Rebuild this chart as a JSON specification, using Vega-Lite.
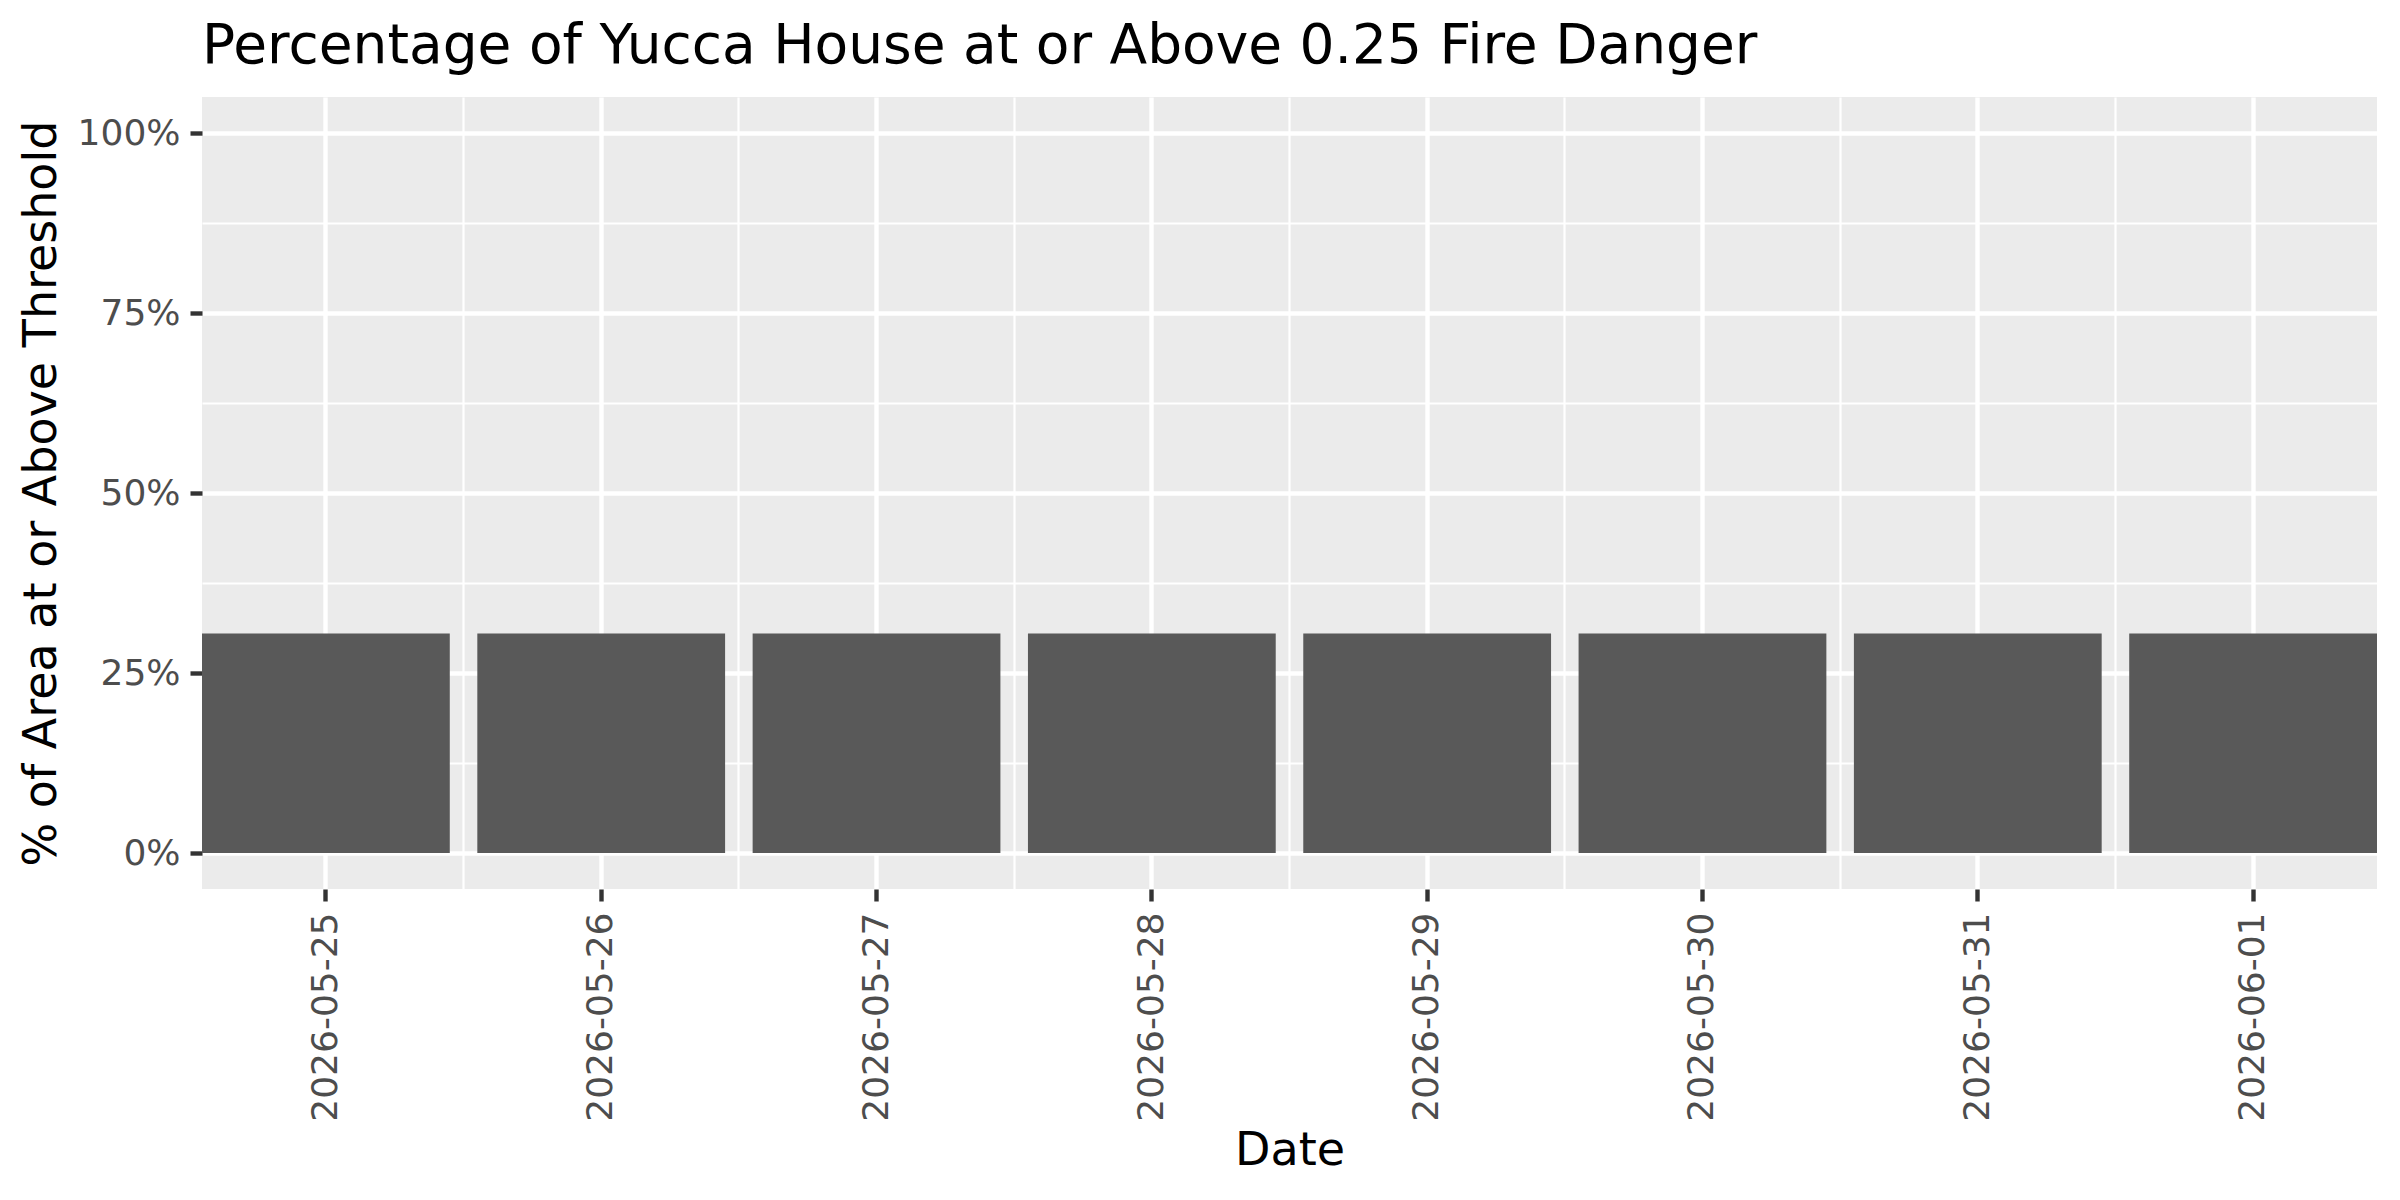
{
  "$schema": "https://vega.github.io/schema/vega-lite/v6.json",
  "width": 2175,
  "height": 792,
  "autosize": {"type": "none"},
  "padding": {"left": 202, "top": 97, "right": 23, "bottom": 311},
  "background": "white",
  "title": {
    "text": "Percentage of Yucca House at or Above 0.25 Fire Danger",
    "anchor": "start",
    "frame": "group",
    "fontSize": 55,
    "font": "DejaVu Sans",
    "fontWeight": "normal",
    "color": "black",
    "offset": 22
  },
  "config": {
    "view": {"fill": "#EBEBEB", "stroke": null},
    "font": "DejaVu Sans"
  },
  "data": {
    "values": [
      {"date": "2026-05-25", "pct": 0.305},
      {"date": "2026-05-26", "pct": 0.305},
      {"date": "2026-05-27", "pct": 0.305},
      {"date": "2026-05-28", "pct": 0.305},
      {"date": "2026-05-29", "pct": 0.305},
      {"date": "2026-05-30", "pct": 0.305},
      {"date": "2026-05-31", "pct": 0.305},
      {"date": "2026-06-01", "pct": 0.305}
    ]
  },
  "layer": [
    {
      "mark": {"type": "bar", "opacity": 0},
      "encoding": {
        "x": {
          "field": "date",
          "type": "ordinal",
          "scale": {"paddingInner": 0.1, "paddingOuter": 0},
          "axis": {
            "orient": "top",
            "bandPosition": -0.0556,
            "grid": true,
            "gridColor": "white",
            "gridWidth": 2.2,
            "labels": false,
            "ticks": false,
            "domain": false,
            "title": null
          }
        },
        "y": {
          "field": "pct",
          "type": "quantitative",
          "scale": {"domain": [-0.05, 1.05], "nice": false, "zero": false},
          "axis": {
            "values": [0, 0.125, 0.25, 0.375, 0.5, 0.625, 0.75, 0.875, 1],
            "labelExpr": "datum.value * 4 == round(datum.value * 4) ? format(datum.value, '.0%') : ''",
            "grid": true,
            "gridColor": "white",
            "gridWidth": {"condition": {"test": "datum.value * 4 == round(datum.value * 4)", "value": 4.4}, "value": 2.2},
            "tickOpacity": {"condition": {"test": "datum.value * 4 == round(datum.value * 4)", "value": 1}, "value": 0},
            "domain": false,
            "tickSize": 12,
            "tickWidth": 4.4,
            "tickColor": "#333333",
            "labelFontSize": 36,
            "labelColor": "#4D4D4D",
            "labelPadding": 10,
            "labelLimit": 0,
            "title": "% of Area at or Above Threshold",
            "titleFontSize": 46,
            "titleFontWeight": "normal",
            "titleColor": "black",
            "titlePadding": 12,
            "titleLimit": 0
          }
        }
      }
    },
    {
      "mark": {"type": "bar", "color": "#595959"},
      "encoding": {
        "x": {
          "field": "date",
          "type": "ordinal",
          "scale": {"paddingInner": 0.1, "paddingOuter": 0},
          "axis": {
            "orient": "bottom",
            "bandPosition": 0.5,
            "grid": true,
            "gridColor": "white",
            "gridWidth": 4.4,
            "domain": false,
            "tickSize": 12,
            "tickWidth": 4.4,
            "tickColor": "#333333",
            "labelAngle": 270,
            "labelAlign": "right",
            "labelBaseline": "middle",
            "labelFontSize": 36,
            "labelColor": "#4D4D4D",
            "labelPadding": 11,
            "labelLimit": 0,
            "title": "Date",
            "titleFontSize": 46,
            "titleFontWeight": "normal",
            "titleColor": "black",
            "titlePadding": 39
          }
        },
        "y": {
          "field": "pct",
          "type": "quantitative",
          "scale": {"domain": [-0.05, 1.05], "nice": false, "zero": false},
          "axis": {
            "values": [0, 0.125, 0.25, 0.375, 0.5, 0.625, 0.75, 0.875, 1],
            "labelExpr": "datum.value * 4 == round(datum.value * 4) ? format(datum.value, '.0%') : ''",
            "grid": true,
            "gridColor": "white",
            "gridWidth": {"condition": {"test": "datum.value * 4 == round(datum.value * 4)", "value": 4.4}, "value": 2.2},
            "tickOpacity": {"condition": {"test": "datum.value * 4 == round(datum.value * 4)", "value": 1}, "value": 0},
            "domain": false,
            "tickSize": 12,
            "tickWidth": 4.4,
            "tickColor": "#333333",
            "labelFontSize": 36,
            "labelColor": "#4D4D4D",
            "labelPadding": 10,
            "labelLimit": 0,
            "title": "% of Area at or Above Threshold",
            "titleFontSize": 46,
            "titleFontWeight": "normal",
            "titleColor": "black",
            "titlePadding": 12,
            "titleLimit": 0
          }
        }
      }
    }
  ],
  "resolve": {"axis": {"x": "independent"}}
}
